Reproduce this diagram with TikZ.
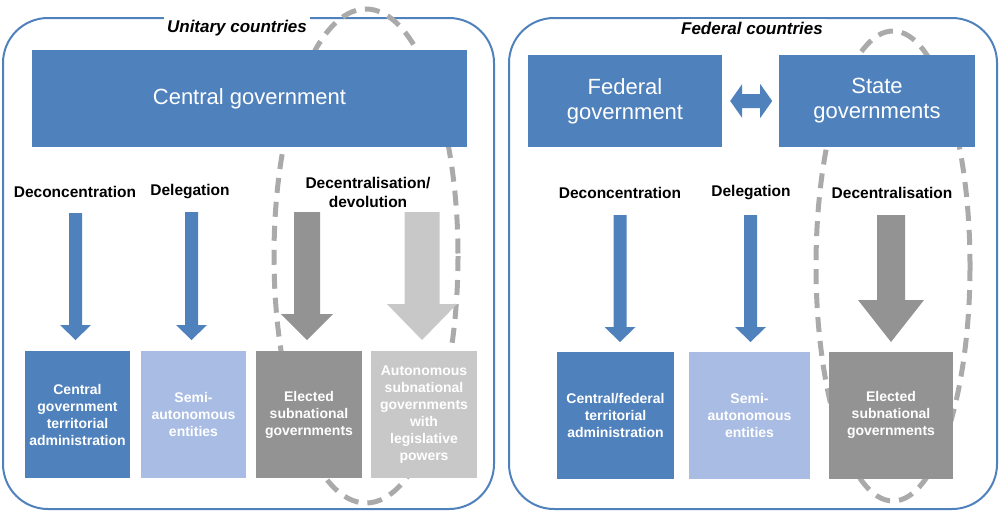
\documentclass[tikz,border=0pt]{standalone}
\usepackage{fontspec}
\setmainfont{Liberation Sans}
\usetikzlibrary{positioning}
\definecolor{oecdblue}{RGB}{79,129,189}
\definecolor{lightblue}{RGB}{169,188,227}
\definecolor{darkgrey}{RGB}{147,147,147}
\definecolor{lightgrey}{RGB}{200,200,200}
\definecolor{ovalgrey}{RGB}{170,170,170}
\newcommand{\fatarrow}[7]{% x, top, tip, shaft width, head width, head length, colour
  \fill[#7] (#1-#4/2,#2) -- (#1+#4/2,#2) -- (#1+#4/2,#3-#6) -- (#1+#5/2,#3-#6)
    -- (#1,#3) -- (#1-#5/2,#3-#6) -- (#1-#4/2,#3-#6) -- cycle;}
\tikzset{
  panel/.style={draw=oecdblue, line width=2pt, rounded corners=45pt},
  govbox/.style={fill=oecdblue, text=white, font=\fontsize{22}{25}\selectfont, align=center},
  unitbox/.style={minimum height=127pt, text=white, font=\bfseries\fontsize{14}{17}\selectfont, align=center, inner sep=1pt},
  steplabel/.style={font=\bfseries\fontsize{15.5}{19}\selectfont, align=center},
  paneltitle/.style={fill=white, font=\bfseries\itshape\fontsize{17}{20}\selectfont, inner sep=3pt},
  oval/.style={draw=ovalgrey, line width=5pt, dash pattern=on 15pt off 9pt}
}
\begin{document}
\begin{tikzpicture}[x=1pt,y=-1pt]
\useasboundingbox (0,0) rectangle (1000,512);

% unitary countries
\draw[panel] (3,18) rectangle (494,509);
\node[paneltitle] (unitary) at (237,28) {Unitary countries};
\draw[oval] (366,256) ellipse [x radius=92, y radius=247];
\node[govbox, minimum width=435pt, minimum height=97pt] (central) at (249.5,98.5) {Central government};

\node[steplabel] (deconc) at (75,192) {Deconcentration};
\node[steplabel] (deleg) at (190,192) {Delegation};
\node[steplabel] (decent) at (368,192) {Decentralisation/\\devolution};

\fatarrow{75.5}{213}{340}{13}{31}{15}{oecdblue}
\fatarrow{191.5}{212}{340}{13}{31}{15}{oecdblue}
\fatarrow{307}{212}{340}{26}{52}{26}{darkgrey}
\fatarrow{422}{212}{340}{35}{70}{36}{lightgrey}

\node[unitbox, fill=oecdblue, minimum width=105pt] (admin) at (77.5,414.5) {Central\\government\\territorial\\administration};
\node[unitbox, fill=lightblue, minimum width=105pt] (semi) at (193.5,414.5) {Semi-\\autonomous\\entities};
\node[unitbox, fill=darkgrey, minimum width=106pt] (elected) at (309,414.5) {Elected\\subnational\\governments};
\node[unitbox, fill=lightgrey, minimum width=106pt] (autonomous) at (424,414.5) {Autonomous\\subnational\\governments\\with\\legislative\\powers};

% federal countries
\draw[panel] (509,18) rectangle (997,509);
\node[paneltitle] (federal) at (752,28) {Federal countries};
\draw[oval] (893,266) ellipse [x radius=77, y radius=235];
\node[govbox, minimum width=194pt, minimum height=92pt] (fedgov) at (625,101) {Federal\\government};
\node[govbox, minimum width=196pt, minimum height=92pt] (stategov) at (877,101) {State\\governments};
\fill[oecdblue] (fedgov.east) ++(8,0) -- ++(12,-17) -- ++(0,10) -- ++(18,0) -- ++(0,-10)
  -- ++(12,17) -- ++(-12,17) -- ++(0,-10) -- ++(-18,0) -- ++(0,10) -- cycle;

\node[steplabel] (fdeconc) at (620,193) {Deconcentration};
\node[steplabel] (fdeleg) at (751,193) {Delegation};
\node[steplabel] (fdecent) at (892,193) {Decentralisation};

\fatarrow{620}{215}{342}{13}{31}{15}{oecdblue}
\fatarrow{750.5}{215}{342}{13}{31}{15}{oecdblue}
\fatarrow{891}{215}{342}{28}{66}{42}{darkgrey}

\node[unitbox, fill=oecdblue, minimum width=117pt] (fadmin) at (615.5,415) {Central/federal\\territorial\\administration};
\node[unitbox, fill=lightblue, minimum width=121pt] (fsemi) at (749.5,415) {Semi-\\autonomous\\entities};
\node[unitbox, fill=darkgrey, minimum width=124pt] (felected) at (891,415) {Elected\\subnational\\governments};
\end{tikzpicture}
\end{document}
